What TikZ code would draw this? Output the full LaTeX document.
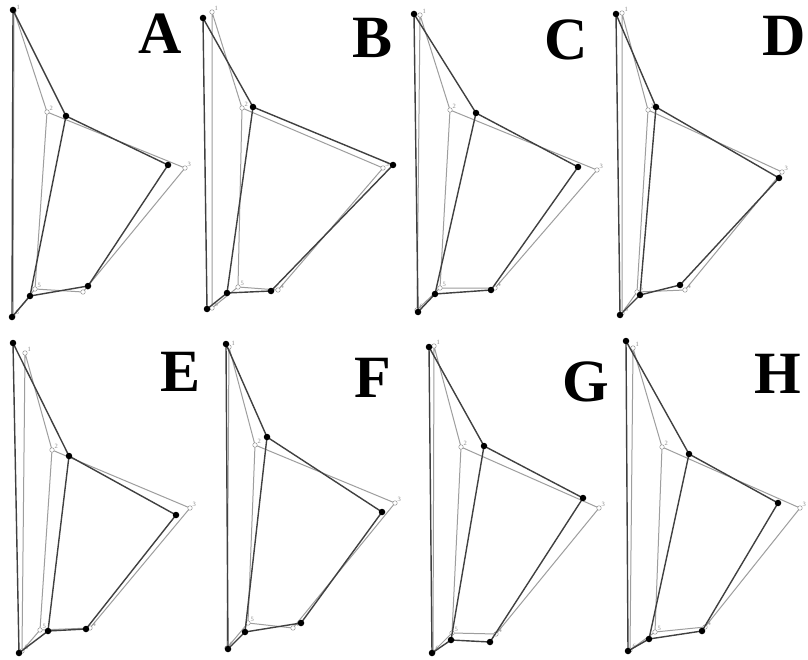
\documentclass[tikz,border=0pt]{standalone}
\usepackage{fontspec}
\setmainfont{Liberation Serif}
\begin{document}
\begin{tikzpicture}[x=1pt,y=-1pt,
  darkline/.style={draw=black!75,line width=1.4pt,line join=round},
  lightline/.style={draw=black!38,line width=1pt,line join=round},
  darkdot/.style={circle,fill=black,inner sep=0pt,minimum size=6.5pt},
  lightdot/.style={circle,draw=black!40,fill=white,line width=0.5pt,inner sep=0pt,minimum size=4.5pt},
  lbl/.style={text=black!45,font=\fontsize{6.5}{6.5}\selectfont,inner sep=1pt},
  letter/.style={font=\fontsize{60}{60}\selectfont\bfseries,inner sep=0pt}]
\useasboundingbox[fill=white] (0,0) rectangle (808,660);
% ---- coordinates: d = dark outline, l = light outline ----
% A
\coordinate (A-d1) at (13,10);  \coordinate (A-d2) at (66,116); \coordinate (A-d3) at (168,165);
\coordinate (A-d4) at (88,286); \coordinate (A-d5) at (30,296); \coordinate (A-d6) at (12,317);
\coordinate (A-l1) at (14,11);  \coordinate (A-l2) at (47,112); \coordinate (A-l3) at (185,168);
\coordinate (A-l4) at (83,292); \coordinate (A-l5) at (35,289); \coordinate (A-l6) at (13,316);
% B
\coordinate (B-d1) at (203,18);  \coordinate (B-d2) at (253,107); \coordinate (B-d3) at (393,165);
\coordinate (B-d4) at (271,291); \coordinate (B-d5) at (227,293); \coordinate (B-d6) at (207,309);
\coordinate (B-l1) at (212,12);  \coordinate (B-l2) at (242,108); \coordinate (B-l3) at (383,168);
\coordinate (B-l4) at (278,290); \coordinate (B-l5) at (238,287); \coordinate (B-l6) at (212,308);
% C
\coordinate (C-d1) at (414,14);  \coordinate (C-d2) at (476,113); \coordinate (C-d3) at (578,167);
\coordinate (C-d4) at (491,290); \coordinate (C-d5) at (435,294); \coordinate (C-d6) at (418,312);
\coordinate (C-l1) at (420,15);  \coordinate (C-l2) at (450,110); \coordinate (C-l3) at (597,170);
\coordinate (C-l4) at (495,288); \coordinate (C-l5) at (440,288); \coordinate (C-l6) at (417,310);
% D
\coordinate (D-d1) at (616,14);  \coordinate (D-d2) at (656,107); \coordinate (D-d3) at (779,178);
\coordinate (D-d4) at (680,285); \coordinate (D-d5) at (640,295); \coordinate (D-d6) at (620,315);
\coordinate (D-l1) at (622,13);  \coordinate (D-l2) at (648,110); \coordinate (D-l3) at (782,172);
\coordinate (D-l4) at (685,290); \coordinate (D-l5) at (637,292); \coordinate (D-l6) at (622,313);
% E
\coordinate (E-d1) at (13,343);  \coordinate (E-d2) at (69,456); \coordinate (E-d3) at (176,515);
\coordinate (E-d4) at (86,629);  \coordinate (E-d5) at (48,631); \coordinate (E-d6) at (19,653);
\coordinate (E-l1) at (25,353);  \coordinate (E-l2) at (52,450); \coordinate (E-l3) at (190,508);
\coordinate (E-l4) at (90,628);  \coordinate (E-l5) at (40,630); \coordinate (E-l6) at (22,651);
% F
\coordinate (F-d1) at (226,344); \coordinate (F-d2) at (267,437); \coordinate (F-d3) at (382,512);
\coordinate (F-d4) at (301,623); \coordinate (F-d5) at (245,632); \coordinate (F-d6) at (228,649);
\coordinate (F-l1) at (229,347); \coordinate (F-l2) at (255,445); \coordinate (F-l3) at (395,503);
\coordinate (F-l4) at (293,628); \coordinate (F-l5) at (248,623); \coordinate (F-l6) at (227,648);
% G
\coordinate (G-d1) at (429,347); \coordinate (G-d2) at (484,446); \coordinate (G-d3) at (583,498);
\coordinate (G-d4) at (490,642); \coordinate (G-d5) at (451,640); \coordinate (G-d6) at (432,653);
\coordinate (G-l1) at (434,346); \coordinate (G-l2) at (461,447); \coordinate (G-l3) at (599,508);
\coordinate (G-l4) at (496,634); \coordinate (G-l5) at (452,633); \coordinate (G-l6) at (433,652);
% H
\coordinate (H-d1) at (626,341); \coordinate (H-d2) at (689,454); \coordinate (H-d3) at (778,503);
\coordinate (H-d4) at (702,631); \coordinate (H-d5) at (649,639); \coordinate (H-d6) at (628,651);
\coordinate (H-l1) at (633,348); \coordinate (H-l2) at (662,447); \coordinate (H-l3) at (800,508);
\coordinate (H-l4) at (705,627); \coordinate (H-l5) at (655,632); \coordinate (H-l6) at (630,650);
% ---- drawing ----
\foreach \p in {A,B,C,D,E,F,G,H} {
  \draw[lightline] (\p-l1) -- (\p-l2) -- (\p-l3) -- (\p-l4) -- (\p-l5) -- (\p-l6) -- cycle;
  \draw[lightline] (\p-l2) -- (\p-l5);
  \foreach \i in {1,...,6} {
    \node[lightdot] (\p-lp\i) at (\p-l\i) {};
    \node[lbl,anchor=south west] (\p-lt\i) at ([xshift=1.5pt,yshift=0.5pt]\p-l\i) {\i};
  }
  \draw[darkline] (\p-d1) -- (\p-d2) -- (\p-d3) -- (\p-d4) -- (\p-d5) -- (\p-d6) -- cycle;
  \draw[darkline] (\p-d2) -- (\p-d5);
  \foreach \i in {1,...,6} {
    \node[darkdot] (\p-dp\i) at (\p-d\i) {};
  }
}
% ---- panel letters ----
\node[letter] (LA) at (160,34) {A};
\node[letter] (LB) at (373,38) {B};
\node[letter] (LC) at (566,40) {C};
\node[letter] (LD) at (784,36) {D};
\node[letter] (LE) at (181,372) {E};
\node[letter] (LF) at (373,378) {F};
\node[letter] (LG) at (586,382) {G};
\node[letter] (LH) at (778,374) {H};
\end{tikzpicture}
\end{document}
